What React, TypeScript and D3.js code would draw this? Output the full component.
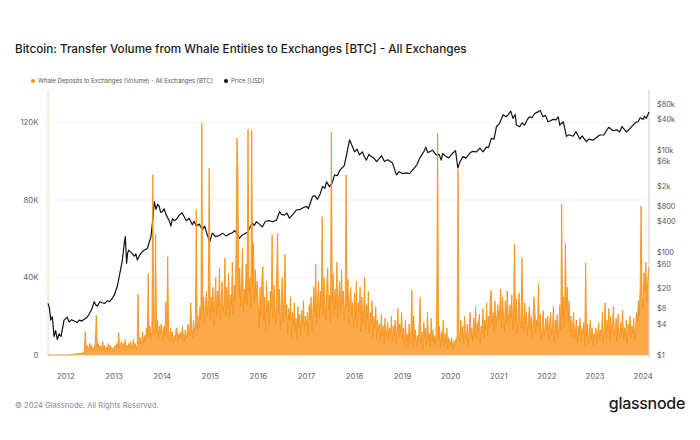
import React from 'react';
import * as d3 from 'd3';

const W = 700;
const H = 440;
const X0 = 48;
const X1 = 649;
const Y0 = 355;
const YT = 90;

const TITLE = 'Bitcoin: Transfer Volume from Whale Entities to Exchanges [BTC] - All Exchanges';
const LEGEND_VOL = 'Whale Deposits to Exchanges (Volume) - All Exchanges [BTC]';
const LEGEND_PRICE = 'Price [USD]';
const FOOTER = '© 2024 Glassnode. All Rights Reserved.';
const BRAND = 'glassnode';

// Weekly whale deposit volume (thousand BTC), one array per year
const vol2011 = [0, 0, 0, 0, 0, 0, 0, 0, 0, 0, 0, 0, 0, 0, 0, 0, 0, 0.05, 0, 0];
const vol2012 = [
  0, 0, 0, 0.1, 0, 0.2, 0.3, 0.2, 0.5, 0.3, 0.6, 0.4, 0.8,
  0.5, 0.7, 1, 0.6, 1.2, 0.8, 1.5, 2, 12, 3, 5, 2.5, 4,
  6, 3, 5, 2, 4, 3, 7, 20.6, 4, 6, 3, 5, 2.5,
  4, 7, 3, 5, 2, 4, 3, 6, 2.5, 5, 3, 4, 2,
];
const vol2013 = [
  3, 5, 2.5, 6, 4, 11.5, 3, 5, 7, 4, 6, 3, 8,
  4, 5, 3, 6, 4, 7, 3, 5, 8, 4, 6, 3, 5,
  31.5, 6, 9, 5, 8, 12, 6, 10, 7, 14, 9, 42, 10,
  15, 8, 12, 93, 14, 10, 62.5, 12, 18, 9, 15, 11, 16,
];
const vol2014 = [
  12, 8, 15, 10, 27.5, 9, 50.7, 11, 7, 14, 9, 12, 6,
  10, 8, 13, 14, 7, 11, 9, 12, 8, 15, 10, 7, 13,
  9, 11, 16, 10, 12, 27, 14, 9, 18, 12, 15, 75, 13,
  20, 14, 25, 18, 119.6, 22, 30, 17, 26, 33, 20, 28, 96.4,
];
const vol2015 = [
  18, 30, 22, 35, 15, 28, 40, 20, 33, 25, 45, 18, 30,
  38, 22, 27, 50, 20, 35, 24, 42, 19, 31, 26, 48, 21,
  36, 28, 52, 112, 95.5, 30, 45, 25, 38, 55, 22, 34, 28,
  47, 26, 116.5, 32, 40, 24, 116, 36, 58, 27, 44, 30, 38,
];
const vol2016 = [
  25, 14, 35, 20, 40, 45.6, 18, 30, 12, 38, 22, 28, 15,
  33, 24, 62, 19, 36, 27, 16, 42, 62.8, 21, 34, 13, 29,
  40, 17, 31, 52, 20, 26, 11, 24, 18, 30, 9, 22, 15,
  27, 12, 19, 8, 25, 14, 21, 10, 23, 16, 28, 13, 20,
];
const vol2017 = [
  15, 22, 10, 26, 18, 30, 12, 24, 35, 20, 47, 16, 28,
  38, 19, 33, 25, 71.4, 21, 40, 29, 18, 36, 45, 23, 31,
  17, 115, 27, 42, 20, 34, 24, 48, 19, 30, 38, 22, 44,
  26, 33, 18, 28, 93, 25, 39, 16, 29, 35, 21, 27, 14,
];
const vol2018 = [
  32, 18, 38, 14, 27, 22, 35, 12, 30, 16, 24, 40, 13,
  26, 19, 33, 11, 22, 17, 28, 9, 20, 14, 25, 8, 18,
  12, 16, 7, 21, 10, 15, 6, 19, 9, 13, 17, 8, 14,
  11, 20, 7, 15, 10, 18, 6, 13, 24, 9, 16, 12, 22,
];
const vol2019 = [
  8, 14, 5, 18, 7, 11, 4, 16, 6, 12, 33.5, 5, 20,
  8, 13, 4, 10, 7, 15, 29.8, 6, 12, 3, 17, 9, 14,
  5, 22, 8, 11, 4, 19, 7, 13, 5, 10, 6, 24, 114.4,
  8, 15, 4, 12, 7, 18, 5, 11, 6, 14, 3, 9, 7,
];
const vol2020 = [
  5, 9, 3, 7, 4, 8, 6, 10, 95.8, 12, 7, 18, 9,
  15, 6, 20, 11, 8, 16, 5, 13, 22, 9, 14, 7, 19,
  10, 25, 8, 17, 12, 21, 6, 15, 11, 24, 9, 18, 13,
  27, 10, 20, 14, 30, 33.5, 16, 22, 12, 28, 15, 19, 26,
];
const vol2021 = [
  18, 25, 34, 14, 30, 20, 12, 28, 16, 33, 22, 15, 26,
  19, 31, 13, 24, 57.3, 17, 29, 11, 23, 32, 18, 14, 50.4,
  21, 12, 27, 16, 22, 10, 19, 25, 13, 20, 9, 17, 30,
  24, 11, 18, 15, 37, 12, 21, 8, 16, 23, 10, 14, 19,
];
const vol2022 = [
  12, 20, 8, 16, 22, 10, 14, 25, 7, 18, 11, 21, 9,
  15, 26, 13, 77.8, 19, 30, 14, 57.6, 24, 35, 17, 28, 12,
  20, 9, 16, 22, 8, 13, 18, 6, 15, 10, 19, 7, 14,
  11, 17, 5, 47.6, 9, 16, 6, 12, 18, 8, 14, 5, 11,
];
const vol2023 = [
  9, 14, 6, 12, 17, 8, 13, 10, 22, 7, 15, 27, 9,
  18, 12, 24, 8, 20, 11, 16, 25, 10, 14, 19, 7, 21,
  13, 9, 17, 11, 23, 8, 14, 10, 18, 6, 16, 12, 20,
  9, 15, 11, 19, 8, 13, 22, 17, 28, 20, 35, 76.9, 30,
];
const vol2024 = [25, 42.5, 33, 48, 27, 38, 45.3];

const volumeYears: [string, number[]][] = [
  ['2011-08-18', vol2011], ['2012-01-01', vol2012], ['2013-01-01', vol2013],
  ['2014-01-01', vol2014], ['2015-01-01', vol2015], ['2016-01-01', vol2016],
  ['2017-01-01', vol2017], ['2018-01-01', vol2018], ['2019-01-01', vol2019],
  ['2020-01-01', vol2020], ['2021-01-01', vol2021], ['2022-01-01', vol2022],
  ['2023-01-01', vol2023], ['2024-01-01', vol2024],
];

// Price (USD)
const priceData: [string, number][] = [
  ['2011-08-18', 10.2], ['2011-08-28', 8.5], ['2011-09-08', 4.8], ['2011-09-20', 5.6], ['2011-10-03', 2.3],
  ['2011-10-15', 3.0], ['2011-10-28', 2.0], ['2011-11-10', 2.6], ['2011-11-25', 2.3], ['2011-12-18', 4.8],
  ['2012-01-10', 5.5], ['2012-01-25', 4.4], ['2012-02-12', 4.9], ['2012-03-04', 4.6], ['2012-03-25', 4.3],
  ['2012-04-11', 4.8], ['2012-05-01', 4.6], ['2012-05-19', 5.0], ['2012-06-08', 5.4], ['2012-06-26', 6.3],
  ['2012-07-15', 7.8], ['2012-08-03', 11], ['2012-08-14', 9.6], ['2012-08-26', 9], ['2012-09-15', 11],
  ['2012-10-03', 10.5], ['2012-10-22', 10.2], ['2012-11-10', 11.5], ['2012-11-28', 11], ['2012-12-18', 12.8],
  ['2013-01-03', 14.9], ['2013-01-25', 22], ['2013-02-09', 34], ['2013-03-04', 70], ['2013-03-19', 150],
  ['2013-03-27', 205], ['2013-04-06', 62], ['2013-04-13', 95], ['2013-04-21', 112], ['2013-05-12', 100],
  ['2013-06-04', 85], ['2013-06-15', 95], ['2013-06-26', 72], ['2013-07-15', 90], ['2013-08-03', 104],
  ['2013-08-20', 112], ['2013-09-10', 120], ['2013-10-08', 205], ['2013-10-22', 450], ['2013-11-02', 985],
  ['2013-11-15', 700], ['2013-11-28', 880], ['2013-12-10', 800], ['2013-12-20', 610], ['2014-01-02', 630],
  ['2014-01-15', 720], ['2014-02-01', 540], ['2014-02-24', 420], ['2014-03-08', 330], ['2014-03-20', 460],
  ['2014-04-03', 420], ['2014-04-20', 450], ['2014-05-11', 540], ['2014-06-01', 600], ['2014-07-03', 420],
  ['2014-07-25', 470], ['2014-08-18', 350], ['2014-09-01', 410], ['2014-09-17', 330], ['2014-10-10', 360],
  ['2014-11-02', 280], ['2014-11-20', 330], ['2014-12-10', 220], ['2014-12-29', 165], ['2015-01-17', 240],
  ['2015-02-10', 205], ['2015-03-10', 215], ['2015-04-05', 240], ['2015-05-03', 210], ['2015-05-25', 230],
  ['2015-06-18', 245], ['2015-07-08', 270], ['2015-07-26', 225], ['2015-08-10', 190], ['2015-08-28', 215],
  ['2015-09-17', 230], ['2015-10-10', 250], ['2015-11-02', 320], ['2015-11-17', 375], ['2015-12-01', 340],
  ['2015-12-17', 400], ['2016-01-10', 360], ['2016-02-01', 320], ['2016-02-25', 410], ['2016-03-25', 420],
  ['2016-04-20', 400], ['2016-05-18', 430], ['2016-06-10', 630], ['2016-06-25', 560], ['2016-07-18', 540],
  ['2016-08-05', 590], ['2016-08-25', 470], ['2016-09-20', 560], ['2016-10-17', 680], ['2016-11-15', 700],
  ['2016-12-10', 760], ['2017-01-01', 800], ['2017-01-15', 720], ['2017-02-16', 1250], ['2017-03-05', 1300],
  ['2017-03-25', 1100], ['2017-04-15', 1400], ['2017-05-02', 1950], ['2017-05-20', 1800], ['2017-06-02', 2400],
  ['2017-06-25', 1950], ['2017-07-15', 2300], ['2017-08-02', 3300], ['2017-08-25', 3200], ['2017-09-10', 4000],
  ['2017-09-24', 4400], ['2017-10-15', 5000], ['2017-11-01', 8100], ['2017-11-24', 16000], ['2017-12-06', 13500],
  ['2017-12-20', 11000], ['2018-01-01', 9300], ['2018-01-20', 10500], ['2018-02-07', 8100], ['2018-03-01', 9300],
  ['2018-03-15', 7600], ['2018-04-01', 6400], ['2018-04-20', 8300], ['2018-05-09', 7500], ['2018-05-28', 7000],
  ['2018-06-17', 6000], ['2018-07-09', 6900], ['2018-07-25', 7800], ['2018-08-16', 6000], ['2018-09-10', 6500],
  ['2018-10-16', 5600], ['2018-11-15', 3300], ['2018-12-05', 3800], ['2018-12-31', 3500], ['2019-01-25', 3600],
  ['2019-02-22', 3500], ['2019-04-01', 4500], ['2019-04-20', 5200], ['2019-05-09', 6900], ['2019-05-25', 8000],
  ['2019-06-17', 10000], ['2019-06-26', 11500], ['2019-07-10', 9000], ['2019-07-24', 9300], ['2019-08-15', 10000],
  ['2019-09-13', 8100], ['2019-10-05', 8300], ['2019-10-21', 6400], ['2019-11-01', 8600], ['2019-11-28', 7500],
  ['2019-12-18', 7100], ['2020-01-15', 8700], ['2020-02-07', 9800], ['2020-02-24', 4500], ['2020-03-10', 5800],
  ['2020-04-03', 7500], ['2020-04-25', 7000], ['2020-05-24', 8700], ['2020-06-15', 9500], ['2020-07-14', 9300],
  ['2020-08-10', 11000], ['2020-09-03', 9300], ['2020-09-28', 11500], ['2020-10-15', 11400], ['2020-11-05', 17000],
  ['2020-11-25', 16500], ['2020-12-13', 28700], ['2021-01-05', 33000], ['2021-02-01', 49000], ['2021-02-25', 45000],
  ['2021-03-11', 49000], ['2021-04-01', 58000], ['2021-04-18', 42000], ['2021-05-05', 50000], ['2021-05-14', 31000],
  ['2021-06-08', 28700], ['2021-06-25', 34000], ['2021-07-16', 31000], ['2021-08-05', 40000], ['2021-08-23', 45000],
  ['2021-09-10', 43000], ['2021-09-30', 52000], ['2021-10-25', 56000], ['2021-11-10', 60000], ['2021-12-02', 45000],
  ['2021-12-20', 48000], ['2022-01-09', 36000], ['2022-02-01', 38000], ['2022-02-16', 40000], ['2022-03-10', 39000],
  ['2022-03-28', 45000], ['2022-04-08', 31000], ['2022-05-05', 36000], ['2022-05-29', 18700], ['2022-06-20', 20000],
  ['2022-07-18', 18700], ['2022-08-10', 23000], ['2022-09-07', 16500], ['2022-09-25', 19000], ['2022-10-27', 14700],
  ['2022-11-15', 16500], ['2022-12-16', 15700], ['2023-01-10', 17500], ['2023-02-05', 19800], ['2023-03-10', 20000],
  ['2023-03-28', 24000], ['2023-04-15', 28000], ['2023-05-18', 24000], ['2023-06-15', 25000], ['2023-07-07', 22700],
  ['2023-07-25', 29000], ['2023-08-27', 22700], ['2023-09-20', 26000], ['2023-10-17', 31000], ['2023-11-05', 35000],
  ['2023-11-24', 36000], ['2023-12-10', 43000], ['2024-01-01', 40000], ['2024-01-12', 46000], ['2024-01-26', 42000],
  ['2024-02-15', 56000],
];

const leftTicks = [0, 40000, 80000, 120000];
const leftTickLabels = ['0', '40K', '80K', '120K'];
const rightTicks = [1, 4, 8, 20, 60, 100, 400, 800, 2000, 6000, 10000, 40000, 80000];
const rightTickLabels = ['$1', '$4', '$8', '$20', '$60', '$100', '$400', '$800', '$2k', '$6k', '$10k', '$40k', '$80k'];
const yearTicks = [2012, 2013, 2014, 2015, 2016, 2017, 2018, 2019, 2020, 2021, 2022, 2023, 2024];

const ORANGE = '#f7931a';
const FONT = "Inter, 'Noto Sans', sans-serif";

const parse = d3.timeParse('%Y-%m-%d');

export default function App() {
  const volume: { date: Date; v: number }[] = [];
  volumeYears.forEach(([start, vals]) => {
    const s = parse(start) as Date;
    vals.forEach((v, i) => volume.push({ date: d3.timeDay.offset(s, 7 * i), v: v * 1000 }));
  });
  const price = priceData.map(([d, p]) => ({ date: parse(d) as Date, p }));

  const x = d3.scaleTime()
    .domain([parse('2011-08-18') as Date, parse('2024-02-15') as Date])
    .range([X0, X1]);
  const yL = d3.scaleLinear().domain([0, 136800]).range([Y0, YT]);
  const yR = d3.scaleLog().domain([1, 150000]).range([Y0, YT]);

  const volArea = d3.area<{ date: Date; v: number }>()
    .x((d) => x(d.date)).y0(Y0).y1((d) => yL(d.v))(volume) || '';
  const volLine = d3.line<{ date: Date; v: number }>()
    .x((d) => x(d.date)).y((d) => yL(d.v))(volume) || '';
  const priceLine = d3.line<{ date: Date; p: number }>()
    .x((d) => x(d.date)).y((d) => yR(d.p))(price) || '';

  return (
    <svg width={W} height={H} style={{ position: 'absolute', left: 0, top: 0, background: '#fff' }} fontFamily={FONT}>
      <rect width={W} height={H} fill="#fff" />
      <text x={15} y={52.5} fontSize={11.7} fontWeight={500} fill="#1a1a1a">{TITLE}</text>

      <circle cx={33} cy={81} r={2.1} fill={ORANGE} />
      <text x={38} y={83.2} fontSize={6} fill="#555">{LEGEND_VOL}</text>
      <circle cx={226} cy={81} r={2.1} fill="#111" />
      <text x={231} y={83.2} fontSize={6} fill="#555">{LEGEND_PRICE}</text>

      {leftTicks.map((t) => (
        <line key={'g' + t} x1={X0} x2={X1} y1={yL(t)} y2={yL(t)} stroke="#f3f3f3" strokeWidth={1} />
      ))}

      <line x1={X0} x2={X0} y1={YT} y2={Y0} stroke="#f9d6ad" strokeWidth={1} />
      <line x1={X1} x2={X1} y1={YT} y2={Y0 + 3} stroke="#c8c8c8" strokeWidth={1} />
      <line x1={X0} x2={X1} y1={Y0 + 0.5} y2={Y0 + 0.5} stroke="#ececec" strokeWidth={1} />

      <path d={priceLine} fill="none" stroke="#111" strokeWidth={1.2} strokeLinejoin="round" />
      <path d={volArea} fill={ORANGE} fillOpacity={0.8} />
      <path d={volLine} fill="none" stroke={ORANGE} strokeWidth={0.9} />

      {leftTicks.map((t, i) => (
        <text key={'l' + t} x={38.5} y={yL(t) + 2.8} fontSize={7.8} fill="#666" textAnchor="end">{leftTickLabels[i]}</text>
      ))}
      {rightTicks.map((t, i) => (
        <text key={'r' + t} x={657} y={yR(t) + 2.6} fontSize={7.3} fill="#555">{rightTickLabels[i]}</text>
      ))}
      {yearTicks.map((yr) => (
        <text key={'y' + yr} x={x(new Date(yr, 0, 1))} y={378.8} fontSize={7.8} fill="#666" textAnchor="middle">{yr}</text>
      ))}

      <text x={15} y={407.5} fontSize={7.6} fill="#8a8a8a">{FOOTER}</text>
      <text x={685} y={408.5} fontSize={16} fontWeight={500} fill="#1a1a1a" textAnchor="end" letterSpacing={-0.3}>{BRAND}</text>
    </svg>
  );
}
